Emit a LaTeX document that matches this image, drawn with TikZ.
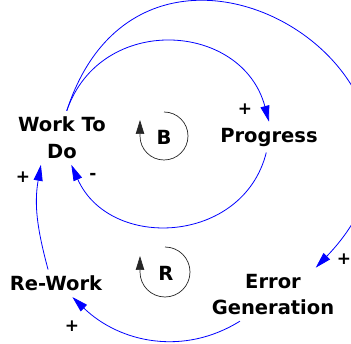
\documentclass[tikz,border=0pt]{standalone}
\usepackage{fontspec}
\setmainfont{DejaVu Sans}
\usepackage{tikz}
\usetikzlibrary{arrows.meta}

\begin{document}
\begin{tikzpicture}[
    x=1pt, y=1pt,
    var/.style={font=\bfseries\fontsize{19.5}{26.5}\selectfont, align=center, inner sep=6pt},
    sgn/.style={font=\bfseries\fontsize{17}{17}\selectfont, inner sep=0pt},
    link/.style={-{Triangle[length=16pt,width=9pt]}, blue, line width=0.8pt},
    loopsym/.style={-{Triangle[length=14pt,width=8.5pt]}, black!85, line width=0.7pt}
]
\useasboundingbox (0,0) rectangle (351,343);

\node[var] (wtd) at (62,205.2) {Work To\\Do};
\node[var] (prog) at (269,205.9) {Progress};
\node[var] (rw) at (56,59.7) {Re-Work};
\node[var] (err) at (273,48.6) {Error\\Generation};

\node[var, inner sep=0pt] (bal) at (164,206) {B};
\node[var, inner sep=0pt] (rein) at (166,70) {R};
\draw[loopsym] (164,231) arc[start angle=90, end angle=-180, radius=24pt] -- ++(0,16);
\draw[loopsym] (165,96) arc[start angle=90, end angle=-180, radius=25pt] -- ++(0,16);

\draw[link] (wtd.80) to[out=71, in=105, looseness=1.31] (prog.north);
\draw[link] (wtd.80) to[out=72, in=46, looseness=2.25] (err.32);
\draw[link] (prog.-100) to[out=-104, in=-66, looseness=1.24] (wtd.-71);
\draw[link] (rw.120) to[out=105, in=-100] (wtd.-128);
\draw[link] (err.-141) to[out=-148, in=-44] (rw.-40);

\foreach \i/\x/\y/\s in {1/245/234/+,2/344/84/+,3/93/167/-,4/23/166/+,5/72/17/+}
  \node[sgn] (s\i) at (\x,\y) {\s};
\end{tikzpicture}
\end{document}
